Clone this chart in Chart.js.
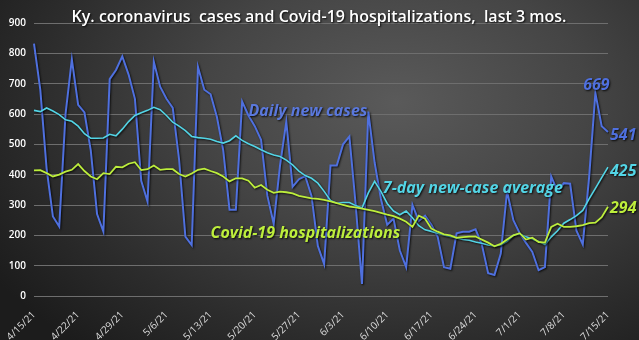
<!DOCTYPE html>
<html>
<head>
<meta charset="utf-8">
<script src="https://cdn.jsdelivr.net/npm/chart.js@4.4.1/dist/chart.umd.min.js"></script>
<style>
  html, body { margin: 0; padding: 0; }
  body {
    width: 639px; height: 340px; overflow: hidden;
    background: radial-gradient(ellipse 75% 95% at 62% 30%, #5a5a5a 0%, #454545 40%, #2c2c2c 75%, #1c1c1c 100%);
  }
  #wrap { position: relative; width: 639px; height: 340px; }
</style>
</head>
<body>
<div id="wrap"><canvas id="chart"></canvas></div>
<script>
// 4/15/21 .. 7/15/21, one point per day
const dates = [];
for (let d = new Date(2021, 3, 15); d <= new Date(2021, 6, 15); d.setDate(d.getDate() + 1)) {
  dates.push((d.getMonth() + 1) + '/' + d.getDate() + '/21');
}

const dailyCases = [
  832, 680, 420, 262, 229, 600, 780, 630, 605, 480,
  270, 212, 715, 745, 790, 730, 650, 380, 311, 772,
  690, 650, 620, 450, 196, 168, 755, 680, 665, 590,
  480, 284, 284, 641, 595, 560, 515, 330, 238, 430,
  575, 360, 385, 395, 330, 165, 105, 430, 430, 500,
  526, 300, 40, 608, 440, 320, 235, 255, 150, 95,
  300, 248, 265, 235, 195, 95, 90, 207, 212, 212,
  220, 170, 75, 69, 140, 345, 250, 207, 175, 145,
  85, 95, 394, 345, 372, 370, 215, 170, 390, 669,
  560, 541
];

const sevenDayAvg = [
  612, 608, 620, 610, 598, 581, 576, 560, 535, 520,
  520, 521, 533, 528, 550, 575, 595, 604, 612, 622,
  614, 595, 573, 560, 545, 526, 522, 520, 517, 509,
  504, 512, 528, 513, 502, 493, 482, 472, 465, 460,
  448, 432, 412, 397, 388, 372, 345, 315, 306, 308,
  308, 298, 290, 340, 378, 345, 305, 280, 268, 280,
  258, 232, 218, 213, 207, 201, 196, 191, 186, 184,
  178, 174, 168, 165, 168, 180, 200, 205, 195, 188,
  180, 170, 195, 215, 240, 252, 265, 282, 320, 355,
  390, 425
];

const hospitalizations = [
  414, 415, 405, 394, 400, 410, 416, 435, 412, 394,
  385, 405, 402, 426, 424, 436, 441, 415, 418, 430,
  416, 418, 418, 402, 394, 404, 416, 420, 412, 405,
  394, 378, 388, 388, 380, 357, 366, 350, 340, 344,
  342, 338, 330, 326, 322, 320, 317, 312, 306, 300,
  295, 292, 288, 284, 280, 274, 268, 263, 255, 245,
  228, 265, 255, 222, 212, 203, 200, 192, 194, 196,
  196, 186, 176, 164, 172, 186, 200, 207, 186, 192,
  178, 176, 228, 238, 228, 228, 230, 234, 240, 242,
  260, 294
];

const yTicks = [0, 100, 200, 300, 400, 500, 600, 700, 800, 900];
const titleText = 'Ky. coronavirus  cases and Covid-19 hospitalizations,  last 3 mos.';

const BLUE = '#4f70df';
const CYAN = '#53d5e6';
const LIME = '#bdee3c';

// series name labels, anchored at (category index, value)
const seriesLabels = [
  { text: 'Daily new cases', index: 34, value: 610, color: '#5a78dc' },
  { text: '7-day new-case average', index: 55.3, value: 354, color: CYAN },
  { text: 'Covid-19 hospitalizations', index: 28, value: 207, color: LIME }
];

const overlay = {
  id: 'overlay',
  beforeDatasetsDraw(chart) {
    const ctx = chart.ctx;
    ctx.save();
    ctx.shadowColor = 'rgba(0,0,0,0.8)';
    ctx.shadowBlur = 2;
    ctx.shadowOffsetX = 1;
    ctx.shadowOffsetY = 1;
  },
  afterDatasetsDraw(chart) {
    chart.ctx.restore();
  },
  afterDraw(chart) {
    const ctx = chart.ctx;
    const xs = chart.scales.x, ys = chart.scales.y;
    ctx.save();
    ctx.shadowColor = 'rgba(0,0,0,0.85)';
    ctx.shadowBlur = 2;
    ctx.shadowOffsetX = 1;
    ctx.shadowOffsetY = 1;

    ctx.fillStyle = '#ffffff';
    ctx.font = '600 16px "Open Sans"';
    ctx.textAlign = 'center';
    ctx.textBaseline = 'middle';
    ctx.fillText(titleText, 319, 17);

    ctx.font = 'italic bold 16px "Open Sans"';
    ctx.textAlign = 'left';
    seriesLabels.forEach(l => {
      const x0 = xs.left + (xs.right - xs.left) * l.index / (dates.length - 1);
      ctx.fillStyle = l.color;
      ctx.fillText(l.text, x0, ys.getPixelForValue(l.value));
    });

    // end-of-series values
    ctx.font = 'italic bold 16px "Open Sans"';
    const last = dates.length - 1;
    const peak = dailyCases.indexOf(Math.max(...dailyCases.slice(80)));
    ctx.fillStyle = BLUE;
    ctx.textAlign = 'center';
    ctx.fillText(String(dailyCases[peak]), xs.getPixelForValue(peak) + 1, ys.getPixelForValue(dailyCases[peak]) - 8);
    ctx.textAlign = 'left';
    const ends = [[dailyCases, BLUE, 4], [sevenDayAvg, CYAN, 4], [hospitalizations, LIME, 2]];
    ends.forEach(([arr, col, dy]) => {
      ctx.fillStyle = col;
      ctx.fillText(String(arr[last]), xs.getPixelForValue(last) + 2, ys.getPixelForValue(arr[last]) + dy);
    });
    ctx.restore();
  }
};

new Chart(document.getElementById('chart'), {
  type: 'line',
  data: {
    labels: dates,
    datasets: [
      { label: 'Covid-19 hospitalizations', data: hospitalizations, borderColor: LIME, borderWidth: 1.8 },
      { label: '7-day new-case average', data: sevenDayAvg, borderColor: CYAN, borderWidth: 1.6 },
      { label: 'Daily new cases', data: dailyCases, borderColor: BLUE, borderWidth: 2 }
    ]
  },
  options: {
    responsive: true,
    maintainAspectRatio: false,
    animation: false,
    devicePixelRatio: 1,
    elements: { point: { radius: 0 }, line: { tension: 0 } },
    layout: { padding: { top: 23, right: 31, bottom: 0, left: 0 } },
    plugins: { legend: { display: false }, tooltip: { enabled: false }, title: { display: false } },
    scales: {
      x: {
        offset: false,
        grid: { display: false },
        border: { display: false },
        afterFit(s) { s.height = 44; },
        ticks: {
          autoSkip: false,
          minRotation: 45,
          maxRotation: 45,
          padding: 5,
          color: '#dcdcdc',
          font: { family: 'Open Sans', size: 10 },
          callback: (v, i) => (i % 7 === 0 ? dates[i] : '')
        }
      },
      y: {
        min: yTicks[0],
        max: yTicks[yTicks.length - 1],
        afterFit(s) { s.width = 34; },
        afterBuildTicks(s) { s.ticks = yTicks.map(v => ({ value: v })); },
        grid: { color: '#6e6e6e', lineWidth: 1, drawTicks: false },
        border: { display: false },
        ticks: {
          padding: 8,
          color: '#ffffff',
          font: { family: 'Open Sans', size: 10, weight: '600' }
        }
      }
    }
  },
  plugins: [overlay]
});
</script>
</body>
</html>
